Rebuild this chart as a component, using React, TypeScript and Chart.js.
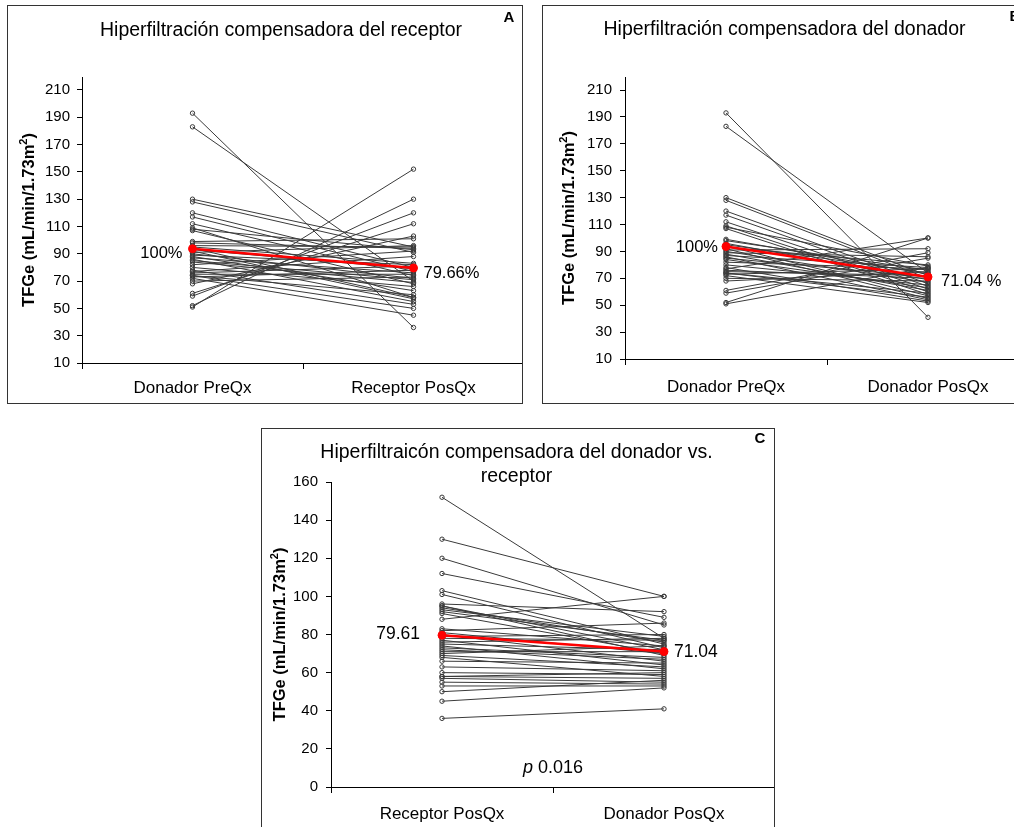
import React, { useEffect, useRef } from "react";
import { Chart, registerables } from "chart.js";

Chart.register(...registerables);

const FONT = '"Liberation Sans", Arial, Helvetica, sans-serif';

// Per-patient eGFR values (mL/min/1.73m2)
const donadorPreQx = [
  193, 183, 130, 128, 120, 117, 112, 109, 108, 107, 99, 98, 96, 95, 94, 93, 92, 91, 90, 89, 88,
  87, 86, 85, 84, 82, 80, 78, 77, 76, 75, 74, 74, 73, 72, 70, 68, 61, 59, 52, 51,
];
const receptorPosQx = [
  36, 70, 95, 91, 80, 77, 74, 58, 93, 68, 101, 94, 95, 83, 58, 79, 57, 96, 72, 82, 63,
  76, 55, 71, 69, 92, 66, 53, 88, 81, 75, 60, 50, 78, 45, 73, 103, 112, 120, 130, 152,
];
const donadorPosQx = [
  41, 74, 72, 70, 66, 64, 62, 60, 79, 58, 73, 76, 69, 74, 57, 80, 55, 92, 67, 86, 61,
  78, 54, 71, 63, 77, 65, 53, 100, 70, 72, 59, 56, 77, 52, 68, 75, 89, 85, 100, 78,
];

// Group means (red line)
const meanA = [93.7, 79.61];
const meanB = [93.7, 71.04];
const meanC = [79.61, 71.04];

// Category labels
const labelsA = ["Donador PreQx", "Receptor PosQx"];
const labelsB = ["Donador PreQx", "Donador PosQx"];
const labelsC = ["Receptor PosQx", "Donador PosQx"];

// Mean annotations
const pctA = ["100%", "79.66%"];
const pctB = ["100%", "71.04 %"];
const pctC = ["79.61", "71.04"];
const pValueC = "0.016";

// Tick values
const ticksAB = [10, 30, 50, 70, 90, 110, 130, 150, 170, 190, 210];
const ticksC = [0, 20, 40, 60, 80, 100, 120, 140, 160];

const titleA = ["Hiperfiltración compensadora del receptor"];
const titleB = ["Hiperfiltración compensadora del donador"];
const titleC = ["Hiperfiltraicón compensadora del donador vs.", "receptor"];

type PanelCfg = {
  left: number;
  top: number;
  width: number;
  height: number;
  extraW: number;
  labels: string[];
  from: number[];
  to: number[];
  mean: number[];
  pct: string[];
  yMin: number;
  yMax: number;
  yTicks: number[];
  title: string[];
  titleX: number;
  titleY: number[];
  letter: string;
  letterX: number;
  letterY: number;
  yAxisWidth: number;
  xAxisHeight: number;
  padTop: number;
  padRight: number;
  yTickPad: number;
  xTickPad: number;
  yTitleX: number;
  pctFont: number;
  pctOff: number[];
  pNote?: string;
  pNoteY?: number;
};

const panels: PanelCfg[] = [
  {
    left: 7, top: 5, width: 516, height: 399, extraW: 7,
    labels: labelsA, from: donadorPreQx, to: receptorPosQx, mean: meanA, pct: pctA,
    yMin: 10, yMax: 219.5, yTicks: ticksAB,
    title: titleA, titleX: 273, titleY: [25],
    letter: "A", letterX: 501, letterY: 12,
    yAxisWidth: 74, xAxisHeight: 40, padTop: 71, padRight: 1,
    yTickPad: 7, xTickPad: 9, yTitleX: 20,
    pctFont: 16.5, pctOff: [-10, 5, 10, 5],
  },
  {
    left: 542, top: 5, width: 489, height: 399, extraW: 4,
    labels: labelsB, from: donadorPreQx, to: donadorPosQx, mean: meanB, pct: pctB,
    yMin: 10, yMax: 219.7, yTicks: ticksAB,
    title: titleB, titleX: 241.5, titleY: [24],
    letter: "B", letterX: 472, letterY: 11,
    yAxisWidth: 82, xAxisHeight: 44, padTop: 71, padRight: 1,
    yTickPad: 8, xTickPad: 12, yTitleX: 24.5,
    pctFont: 16.5, pctOff: [-8, 1, 13, 5],
  },
  {
    left: 261, top: 428, width: 514, height: 420, extraW: 6,
    labels: labelsC, from: receptorPosQx, to: donadorPosQx, mean: meanC, pct: pctC,
    yMin: 0, yMax: 160, yTicks: ticksC,
    title: titleC, titleX: 254.5, titleY: [24, 48],
    letter: "C", letterX: 498, letterY: 10,
    yAxisWidth: 69, xAxisHeight: 60, padTop: 53, padRight: 1,
    yTickPad: 8, xTickPad: 11, yTitleX: 17,
    pctFont: 17.5, pctOff: [-22, -1, 10, 1],
    pNote: pValueC, pNoteY: 10,
  },
];

function makeDeco(cfg: PanelCfg) {
  return {
    id: "deco",
    afterDraw(chart: any) {
      const ctx = chart.ctx as CanvasRenderingContext2D;
      const xs = chart.scales.x;
      const ys = chart.scales.y;
      ctx.save();
      ctx.fillStyle = "#000";
      // Title
      ctx.font = `19.5px ${FONT}`;
      ctx.textAlign = "center";
      ctx.textBaseline = "middle";
      cfg.title.forEach((t, k) => ctx.fillText(t, cfg.titleX, cfg.titleY[k]));
      // Panel letter
      ctx.font = `bold 15px ${FONT}`;
      ctx.fillText(cfg.letter, cfg.letterX, cfg.letterY);
      // Mean labels
      ctx.font = `${cfg.pctFont}px ${FONT}`;
      const [dxL, dyL, dxR, dyR] = cfg.pctOff;
      ctx.textAlign = "right";
      ctx.fillText(cfg.pct[0], xs.getPixelForValue(0) + dxL, ys.getPixelForValue(cfg.mean[0]) + dyL);
      ctx.textAlign = "left";
      ctx.fillText(cfg.pct[1], xs.getPixelForValue(1) + dxR, ys.getPixelForValue(cfg.mean[1]) + dyR);
      // p value note
      if (cfg.pNote) {
        const cx = xs.getPixelForValue(0.5);
        const cy = ys.getPixelForValue(cfg.pNoteY || 0);
        ctx.font = `italic 18px ${FONT}`;
        const wp = ctx.measureText("p ").width;
        ctx.font = `18px ${FONT}`;
        const wv = ctx.measureText(cfg.pNote).width;
        const x0 = cx - (wp + wv) / 2;
        ctx.textAlign = "left";
        ctx.font = `italic 18px ${FONT}`;
        ctx.fillText("p ", x0, cy);
        ctx.font = `18px ${FONT}`;
        ctx.fillText(cfg.pNote, x0 + wp, cy);
      }
      // Y axis title with superscript
      const midY = (chart.chartArea.top + chart.chartArea.bottom) / 2;
      ctx.translate(cfg.yTitleX, midY);
      ctx.rotate(-Math.PI / 2);
      ctx.textAlign = "left";
      ctx.textBaseline = "alphabetic";
      const big = `bold 16.5px ${FONT}`;
      const small = `bold 11px ${FONT}`;
      const main = "TFGe (mL/min/1.73m";
      ctx.font = big;
      const w1 = ctx.measureText(main).width;
      const w3 = ctx.measureText(")").width;
      ctx.font = small;
      const w2 = ctx.measureText("2").width;
      let x = -(w1 + w2 + w3) / 2;
      ctx.font = big;
      ctx.fillText(main, x, 6);
      x += w1;
      ctx.font = small;
      ctx.fillText("2", x, -1);
      x += w2;
      ctx.font = big;
      ctx.fillText(")", x, 6);
      ctx.restore();
    },
  };
}

function Panel({ cfg }: { cfg: PanelCfg }) {
  const ref = useRef<HTMLCanvasElement>(null);
  useEffect(() => {
    if (!ref.current) return;
    const lineColor = "#3a3a3a";
    const datasets: any[] = [
      {
        data: cfg.mean,
        borderColor: "#ff0000",
        backgroundColor: "#ff0000",
        borderWidth: 2.5,
        pointRadius: 4,
        pointBackgroundColor: "#ff0000",
        pointBorderColor: "#ff0000",
        pointBorderWidth: 1,
      },
    ];
    cfg.from.forEach((v, i) => {
      datasets.push({
        data: [v, cfg.to[i]],
        borderColor: lineColor,
        borderWidth: 1,
        pointRadius: 2.2,
        pointBorderWidth: 1,
        pointBackgroundColor: "rgba(255,255,255,0)",
        pointBorderColor: lineColor,
      });
    });
    const chart = new Chart(ref.current, {
      type: "line",
      data: { labels: cfg.labels, datasets },
      options: {
        animation: false,
        responsive: false,
        devicePixelRatio: 1,
        events: [],
        layout: { padding: { left: 0, top: cfg.padTop, right: cfg.padRight, bottom: 0 } },
        plugins: { legend: { display: false }, tooltip: { enabled: false }, title: { display: false } },
        scales: {
          x: {
            type: "category",
            offset: true,
            border: { display: true, color: "#000", width: 1 },
            grid: { offset: true, drawOnChartArea: false, drawTicks: true, tickLength: 6, color: "#000" },
            ticks: { color: "#000", padding: cfg.xTickPad, font: { family: FONT, size: 17 }, maxRotation: 0 },
            afterFit: (s: any) => {
              s.height = cfg.xAxisHeight;
              s.paddingLeft = 0;
              s.paddingRight = 0;
            },
          },
          y: {
            type: "linear",
            min: cfg.yMin,
            max: cfg.yMax,
            border: { display: true, color: "#000", width: 1 },
            grid: { drawOnChartArea: false, drawTicks: true, tickLength: 5, color: "#000" },
            ticks: { color: "#000", padding: cfg.yTickPad, autoSkip: false, font: { family: FONT, size: 15 } },
            afterBuildTicks: (axis: any) => {
              axis.ticks = cfg.yTicks.map((v) => ({ value: v }));
            },
            afterFit: (s: any) => {
              s.width = cfg.yAxisWidth;
            },
          },
        },
      } as any,
      plugins: [makeDeco(cfg)],
    });
    return () => chart.destroy();
  }, [cfg]);
  return (
    <div
      style={{
        position: "absolute",
        left: cfg.left,
        top: cfg.top,
        width: cfg.width,
        height: cfg.height,
        boxSizing: "border-box",
        border: "1px solid #333",
        background: "#fff",
        overflow: "hidden",
      }}
    >
      <canvas
        ref={ref}
        width={cfg.width - 2 + cfg.extraW}
        height={cfg.height - 2}
        style={{ display: "block" }}
      />
    </div>
  );
}

export default function App() {
  return (
    <div
      style={{
        position: "absolute",
        left: 0,
        top: 0,
        width: 1014,
        height: 827,
        overflow: "hidden",
        background: "#fff",
      }}
    >
      {panels.map((p, i) => (
        <Panel key={i} cfg={p} />
      ))}
    </div>
  );
}
